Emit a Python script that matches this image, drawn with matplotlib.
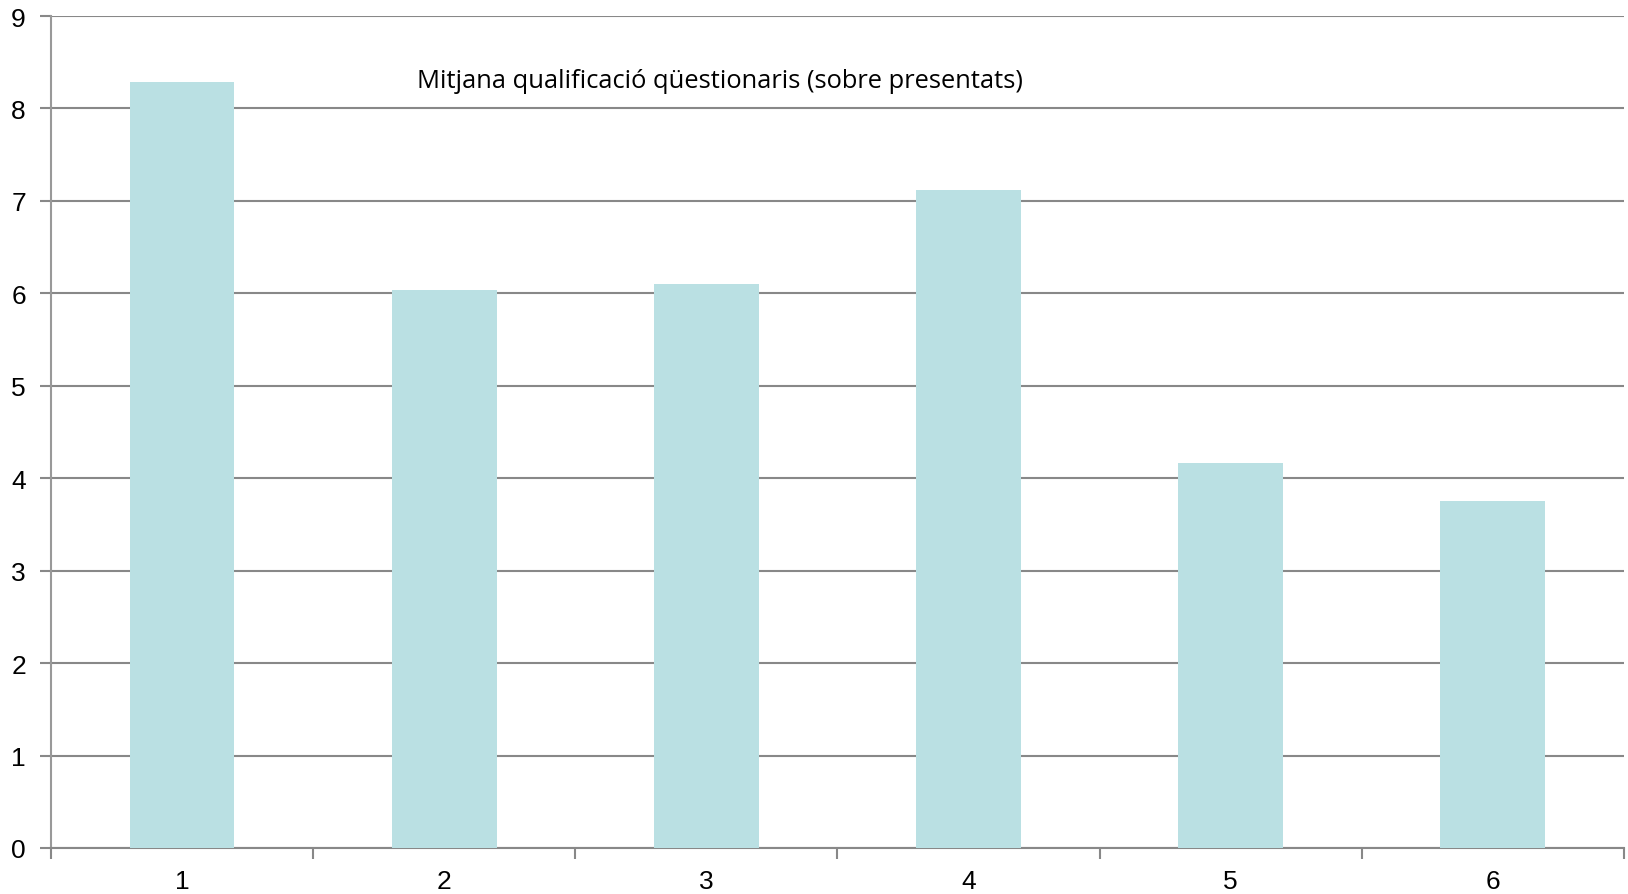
import numpy as np
import matplotlib.pyplot as plt

# Data
categories = ['1', '2', '3', '4', '5', '6']
values = [8.29, 6.04, 6.10, 7.12, 4.17, 3.75]
title = 'Mitjana qualificació qüestionaris (sobre presentats)'

fig = plt.figure(figsize=(16.28, 8.95), dpi=100)
ax = fig.add_axes([0.0313, 0.0514, 0.9662, 0.9296])

x = np.arange(len(categories))
ax.bar(x, values, width=0.4, color='#BAE0E3', zorder=3)

ax.set_xlim(-0.5, len(categories) - 0.5)
ax.set_ylim(0, 9)
ax.set_yticks(range(0, 10))

# gridlines
ax.yaxis.grid(True, color='#888888', linewidth=1.5, zorder=0)

# spines
for s in ['top', 'right']:
    ax.spines[s].set_visible(False)
ax.spines['left'].set_color('#999999')
ax.spines['left'].set_linewidth(1.5)
ax.spines['bottom'].set_color('#888888')
ax.spines['bottom'].set_linewidth(1.5)

# x ticks: labels at centers, tick marks at boundaries
ax.set_xticks(x)
ax.set_xticklabels(categories)
ax.set_xticks(np.arange(-0.5, len(categories)), minor=True)
ax.tick_params(axis='x', which='major', length=0, pad=15)
ax.tick_params(axis='x', which='minor', length=8, width=1.5, color='#888888')
ax.tick_params(axis='y', length=8, width=1.5, color='#888888', pad=10)

for lab in ax.get_xticklabels() + ax.get_yticklabels():
    lab.set_fontfamily('Liberation Sans')
    lab.set_fontsize(19)

ax.text(0.425, 0.922, title, transform=ax.transAxes, ha='center', va='center',
        fontsize=18.4, family='Open Sans', zorder=5)

fig.savefig('out.png', dpi=100)
